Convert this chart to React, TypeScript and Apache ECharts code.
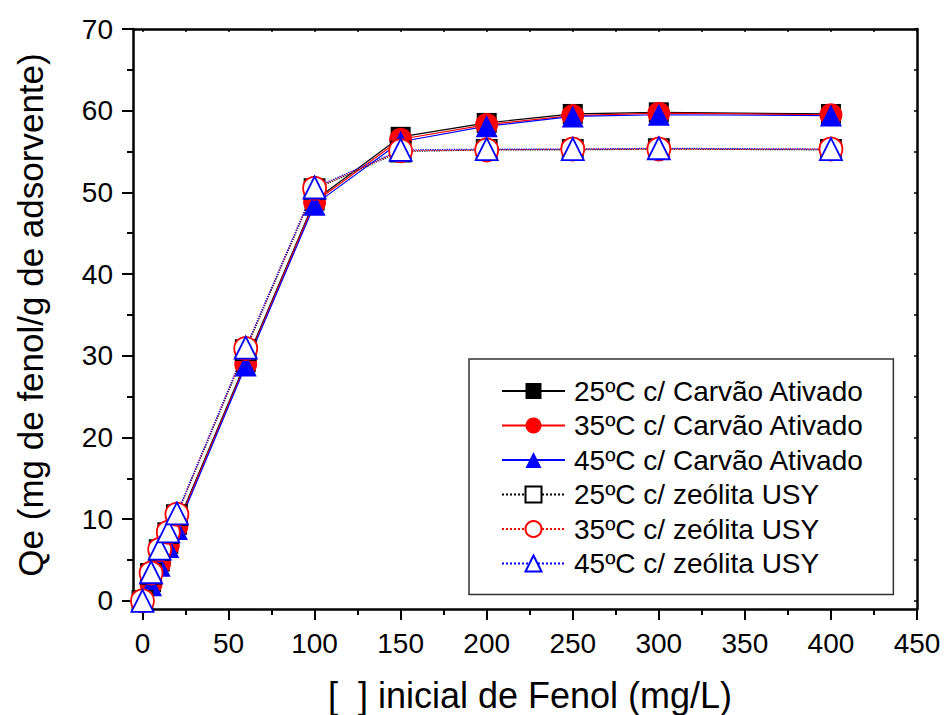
import React, { useEffect, useRef } from "react";
import * as echarts from "echarts";

const concentrations = [0, 5, 10, 15, 20, 60, 100, 150, 200, 250, 300, 400];
const carvao25 = [0, 2.3, 4.8, 7.0, 9.3, 29.2, 49.0, 56.8, 58.5, 59.6, 59.8, 59.6];
const carvao35 = [0, 2.1, 4.6, 6.8, 9.1, 29.0, 48.8, 56.5, 58.3, 59.4, 59.7, 59.5];
const carvao45 = [0, 1.9, 4.3, 6.6, 8.8, 28.8, 48.5, 56.2, 58.1, 59.3, 59.5, 59.4];
const zeolita25 = [0, 3.3, 6.2, 8.3, 10.5, 30.7, 50.4, 55.0, 55.2, 55.2, 55.3, 55.2];
const zeolita35 = [0, 3.4, 6.3, 8.4, 10.6, 30.9, 50.5, 55.1, 55.2, 55.3, 55.3, 55.3];
const zeolita45 = [0, 3.5, 6.4, 8.5, 10.7, 31.0, 50.6, 55.2, 55.3, 55.3, 55.4, 55.3];

const xMajorTicks = [0, 50, 100, 150, 200, 250, 300, 350, 400, 450];
const xMinorTicks = [25, 75, 125, 175, 225, 275, 325, 375, 425];
const xAllTicks = [0, 25, 50, 75, 100, 125, 150, 175, 200, 225, 250, 275, 300, 325, 350, 375, 400, 425, 450];
const yMajorTicks = [0, 10, 20, 30, 40, 50, 60, 70];
const yMinorTicks = [5, 15, 25, 35, 45, 55, 65];
const yAllTicks = [0, 5, 10, 15, 20, 25, 30, 35, 40, 45, 50, 55, 60, 65, 70];

const seriesNames = [
  "25ºC c/ Carvão Ativado",
  "35ºC c/ Carvão Ativado",
  "45ºC c/ Carvão Ativado",
  "25ºC c/ zeólita USY",
  "35ºC c/ zeólita USY",
  "45ºC c/ zeólita USY",
];

const xTitle = "[  ] inicial de Fenol (mg/L)";
const yTitle = "Qe (mg de fenol/g de adsorvente)";

const FONT = "Arial, 'Liberation Sans', sans-serif";

export default function App() {
  const ref = useRef<HTMLDivElement>(null);
  useEffect(() => {
    if (!ref.current) return;
    const chart = echarts.init(ref.current, undefined, { renderer: "svg" });
    const pair = (ys: number[]) => concentrations.map((x, i) => [x, ys[i]]);
    const axisLine = { show: true, onZero: false, lineStyle: { color: "#000", width: 2.5 } };
    const noLine = { show: false, onZero: false };
    const hiddenLabel = { show: false };
    const grid = { left: 133, top: 29, right: 29, bottom: 106 };

    const mk = (
      name: string,
      ys: number[],
      color: string,
      symbol: string,
      size: number,
      open: boolean
    ) => ({
      type: "line",
      name,
      data: pair(ys),
      symbol,
      symbolSize: size,
      showSymbol: true,
      xAxisIndex: 0,
      yAxisIndex: 0,
      lineStyle: { color, width: 1.2, type: open ? "dotted" : "solid" },
      itemStyle: open
        ? { color: "#fff", borderColor: color, borderWidth: 1.8 }
        : { color, borderColor: color, borderWidth: 0 },
      emphasis: { disabled: true },
    });

    chart.setOption({
      animation: false,
      backgroundColor: "#fff",
      grid,
      xAxis: [
        {
          type: "value",
          position: "bottom",
          min: -5.5,
          max: 450,
          axisLine,
          axisTick: { show: true, inside: false, length: 11, lineStyle: { color: "#000", width: 2 }, customValues: xMajorTicks },
          axisLabel: { show: true, customValues: xMajorTicks, fontSize: 28, fontFamily: FONT, color: "#000", margin: 20 },
          splitLine: { show: false },
        },
        {
          type: "value",
          position: "bottom",
          min: -5.5,
          max: 450,
          axisLine: noLine,
          axisTick: { show: true, inside: false, length: 6, lineStyle: { color: "#000", width: 2 }, customValues: xMinorTicks },
          axisLabel: hiddenLabel,
          splitLine: { show: false },
        },
        {
          type: "value",
          position: "top",
          min: -5.5,
          max: 450,
          axisLine,
          axisTick: { show: true, inside: true, length: 3, lineStyle: { color: "#000", width: 1.5 }, customValues: xAllTicks },
          axisLabel: hiddenLabel,
          splitLine: { show: false },
        },
      ],
      yAxis: [
        {
          type: "value",
          position: "left",
          min: -1,
          max: 70,
          axisLine,
          axisTick: { show: true, inside: false, length: 11, lineStyle: { color: "#000", width: 2 }, customValues: yMajorTicks },
          axisLabel: { show: true, customValues: yMajorTicks, fontSize: 28, fontFamily: FONT, color: "#000", margin: 20 },
          splitLine: { show: false },
        },
        {
          type: "value",
          position: "left",
          min: -1,
          max: 70,
          axisLine: noLine,
          axisTick: { show: true, inside: false, length: 6, lineStyle: { color: "#000", width: 2 }, customValues: yMinorTicks },
          axisLabel: hiddenLabel,
          splitLine: { show: false },
        },
        {
          type: "value",
          position: "right",
          min: -1,
          max: 70,
          axisLine,
          axisTick: { show: true, inside: true, length: 3, lineStyle: { color: "#000", width: 1.5 }, customValues: yAllTicks },
          axisLabel: hiddenLabel,
          splitLine: { show: false },
        },
      ],
      legend: {
        show: true,
        orient: "vertical",
        left: 469,
        top: 359,
        itemWidth: 63,
        itemHeight: 20,
        itemGap: 6.5,
        padding: [18, 29, 17, 32],
        borderColor: "#333",
        borderWidth: 1.5,
        backgroundColor: "#fff",
        selectedMode: false,
        textStyle: { fontSize: 28, fontFamily: FONT, color: "#000", padding: [0, 0, 0, 4] },
        data: seriesNames,
      },
      series: [
        mk(seriesNames[0], carvao25, "#000000", "rect", 20, false),
        mk(seriesNames[1], carvao35, "#ff0000", "circle", 23, false),
        mk(seriesNames[2], carvao45, "#0000ff", "triangle", 22, false),
        mk(seriesNames[3], zeolita25, "#000000", "rect", 20, true),
        mk(seriesNames[4], zeolita35, "#ff0000", "circle", 23, true),
        mk(seriesNames[5], zeolita45, "#0000ff", "triangle", 22, true),
      ],
      graphic: [
        {
          type: "text",
          x: 530,
          y: 695,
          style: { text: xTitle, fontSize: 36, fontFamily: FONT, fill: "#000", align: "center", verticalAlign: "middle" },
        },
        {
          type: "text",
          x: 30,
          y: 315,
          rotation: Math.PI / 2,
          style: { text: yTitle, fontSize: 35, fontFamily: FONT, fill: "#000", align: "center", verticalAlign: "middle" },
        },
      ],
    });
    return () => chart.dispose();
  }, []);
  return <div ref={ref} style={{ position: "fixed", left: 0, top: 0, width: 946, height: 715 }} />;
}
